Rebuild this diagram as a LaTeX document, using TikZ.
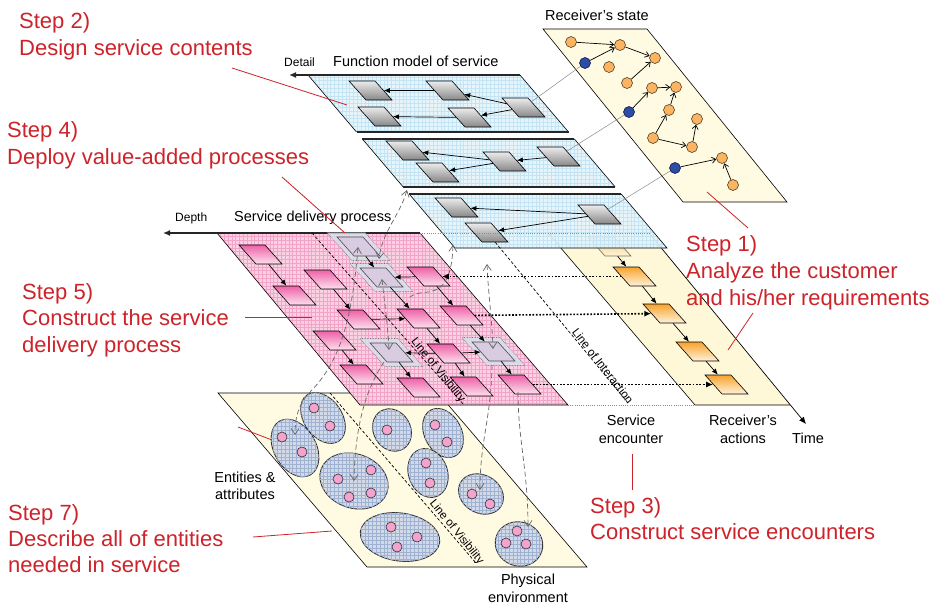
\documentclass[tikz,border=0pt]{standalone}
\usepackage{fontspec}
\setmainfont{Liberation Sans}
\usetikzlibrary{arrows.meta,patterns,shapes.geometric}

\definecolor{stepred}{RGB}{205,35,42}
\definecolor{bluefill}{RGB}{228,244,251}
\definecolor{bluegrid}{RGB}{196,228,243}
\definecolor{pinkfill}{RGB}{250,208,226}
\definecolor{pinkgrid}{RGB}{242,164,200}
\definecolor{creamfill}{RGB}{255,251,226}
\definecolor{actfill}{RGB}{255,248,216}
\definecolor{ellfill}{RGB}{210,218,233}
\definecolor{ellgrid}{RGB}{160,178,210}
\definecolor{dotpink}{RGB}{244,162,206}
\definecolor{stateorange}{RGB}{250,180,98}
\definecolor{stateblue}{RGB}{44,78,160}
\definecolor{graytop}{RGB}{236,236,236}
\definecolor{graybot}{RGB}{135,135,135}
\definecolor{pinktop}{RGB}{238,98,168}
\definecolor{pinkbot}{RGB}{252,224,238}
\definecolor{orangetop}{RGB}{247,163,45}
\definecolor{orangebot}{RGB}{255,242,218}
\definecolor{haloblue}{RGB}{214,226,238}
\definecolor{hilite}{RGB}{216,200,224}

% fine square mesh used as texture on the sheets
\pgfdeclarepatternformonly{mesh}{\pgfqpoint{-0.5pt}{-0.5pt}}{\pgfqpoint{4.5pt}{4.5pt}}{\pgfqpoint{3.8pt}{3.8pt}}{%
  \pgfsetlinewidth{0.3pt}%
  \pgfpathmoveto{\pgfqpoint{0pt}{0pt}}\pgfpathlineto{\pgfqpoint{0pt}{3.85pt}}%
  \pgfpathmoveto{\pgfqpoint{0pt}{0pt}}\pgfpathlineto{\pgfqpoint{3.85pt}{0pt}}%
  \pgfusepath{stroke}}

% a parallelogram tile: name, centre x, centre y, style
\newcommand\slanted[4]{%
  \begin{scope}[shift={(#2,#3)},xslant=-0.895]
    \node[transform shape,#4] (#1) at (0,0) {};
  \end{scope}}

\tikzset{
  every node/.style={inner sep=0pt},
  tile/.style={draw=black,line width=0.6pt,minimum width=26pt,minimum height=19pt},
  graytile/.style={tile,top color=graytop,bottom color=graybot},
  pinktile/.style={tile,top color=pinktop,bottom color=pinkbot},
  orangetile/.style={tile,top color=orangetop,bottom color=orangebot},
  halo/.style={draw=black!55,densely dotted,line width=0.6pt,fill=haloblue,fill opacity=0.8,minimum width=38pt,minimum height=28pt},
  hitile/.style={draw=black!70,line width=0.6pt,fill=hilite,fill opacity=0.75,minimum width=26pt,minimum height=19pt},
  creamplane/.style={fill=creamfill},
  actplane/.style={fill=actfill},
  blueplane/.style={preaction={fill=bluefill,fill opacity=0.88},preaction={pattern=mesh,pattern color=bluegrid}},
  pinkplane/.style={preaction={fill=pinkfill},preaction={pattern=mesh,pattern color=pinkgrid}},
  edge/.style={draw=black,line width=0.6pt},
  rim/.style={draw=black!85,line width=1.3pt},
  axis/.style={draw=black!85,line width=1.3pt,-{Latex[length=7pt,width=6pt]}},
  flow/.style={line width=0.7pt,-{Latex[length=6pt,width=5pt]}},
  stateflow/.style={line width=0.7pt,-{Straight Barb[length=4pt,width=6pt]}},
  encounter/.style={line width=1.6pt,dash pattern=on 1.7pt off 1.7pt,-{Latex[length=7pt,width=6pt]}},
  faintdots/.style={draw=black!45,line width=0.8pt,dash pattern=on 1pt off 1.2pt},
  lov/.style={draw=black,line width=0.7pt,dash pattern=on 3pt off 2pt},
  link/.style={draw=black!60,line width=0.7pt,dash pattern=on 5pt off 3pt},
  barb/.tip={Straight Barb[length=6pt,width=8pt]},
  obs/.style={draw=black!45,line width=0.5pt},
  sdot/.style={circle,draw=black!70!brown,fill=stateorange,line width=0.5pt,minimum size=11pt},
  bdot/.style={circle,draw=black!70!blue,fill=stateblue,line width=0.5pt,minimum size=11pt},
  ent/.style={ellipse,draw=black!80,line width=0.9pt,fill=ellfill,postaction={pattern=mesh,pattern color=ellgrid}},
  pdot/.style={circle,draw=black!80,fill=dotpink,line width=0.6pt,minimum size=10pt},
  steplbl/.style={text=stepred,font=\fontsize{22}{26}\selectfont,anchor=base west},
  lbl/.style={font=\fontsize{14.5}{17}\selectfont},
  axislbl/.style={font=\fontsize{12}{14}\selectfont,anchor=base west},
  lovlbl/.style={font=\fontsize{11.5}{13}\selectfont},
  leader/.style={draw=stepred,line width=0.8pt}
}

\begin{document}
\begin{tikzpicture}[x=1pt,y=-1pt]
\useasboundingbox (0,0) rectangle (936,605);
\fill[white] (0,0) rectangle (936,605);

% ---------------- receiver's state ----------------
\draw[creamplane,edge] (543,29) -- (647,29) -- (787,202) -- (683,202) -- cycle;
\node[sdot] (O1) at (571,42) {};
\node[sdot] (O2) at (620,45) {};
\node[sdot] (O3) at (655,58) {};
\node[sdot] (O4) at (609,67) {};
\node[sdot] (O5) at (627,83) {};
\node[sdot] (O6) at (652,88) {};
\node[sdot] (O7) at (676,87) {};
\node[sdot] (O8) at (669,110) {};
\node[sdot] (O9) at (653,138) {};
\node[sdot] (O10) at (697,119) {};
\node[sdot] (O11) at (692,147) {};
\node[sdot] (O12) at (722,158) {};
\node[sdot] (O13) at (733,185) {};
\node[bdot] (B1) at (585,63) {};
\node[bdot] (B2) at (629,112) {};
\node[bdot] (B3) at (675,168) {};
\draw[stateflow] (O1) -- (O2);
\draw[stateflow] (B1) -- (O2);
\draw[stateflow] (O2) -- (O3);
\draw[stateflow] (O5) -- (O3);
\draw[stateflow] (B2) -- (O6);
\draw[stateflow] (O6) -- (O7);
\draw[stateflow] (O8) -- (O7);
\draw[stateflow] (O9) -- (O8);
\draw[stateflow] (O9) -- (O11);
\draw[stateflow] (O11) -- (O10);
\draw[stateflow] (B3) -- (O12);
\draw[stateflow] (O13) -- (O12);

% ---------------- receiver's actions ----------------
\path[actplane] (548,233) -- (649,233) -- (790,405) -- (695,405) -- cycle;
\draw[edge] (548,233) -- (695,405) -- (790,405);
\coordinate (timeTop) at (649,233);
\coordinate (timeTip) at (806,424);
\draw[line width=0.7pt,-{Latex[length=7pt,width=6pt]}] (timeTop) -- (timeTip);
\slanted{A1}{609.5}{246.5}{orangetile,opacity=0.55}
\slanted{A2}{634.5}{276.5}{orangetile}
\slanted{A3}{664.5}{313.5}{orangetile}
\slanted{A4}{697.5}{351.5}{orangetile}
\slanted{A5}{726.5}{384.5}{orangetile}
\draw[flow] (A1) -- (A2);
\draw[flow] (A2) -- (A3);
\draw[flow] (A3) -- (A4);
\draw[flow] (A4) -- (A5);

% ---------------- function model (three sheets) ----------------
\path[blueplane] (308,75) -- (520,75) -- (568.5,132) -- (356.5,132) -- cycle;
\path[blueplane] (362.4,139) -- (574.4,139) -- (615.2,187) -- (403.2,187) -- cycle;
\path[blueplane] (409.2,194) -- (621.2,194) -- (667,248) -- (455,248) -- cycle;
\draw[edge] (520,75) -- (568.5,132);
\draw[edge] (308,75) -- (356.5,132);
\draw[edge] (362.4,139) -- (403.2,187);
\draw[edge] (574.4,139) -- (615.2,187);
\draw[edge] (409.2,194) -- (455,248) -- (667,248) -- (621.2,194);
\draw[rim] (356.5,132) -- (568.5,132);
\draw[rim] (362.4,139) -- (574.4,139);
\draw[rim] (403.2,187) -- (615.2,187);
\draw[rim] (409.2,194) -- (621.2,194);
\coordinate (detailRoot) at (520,75);
\coordinate (detailTip) at (289,75);
\draw[axis] (detailRoot) -- (detailTip);

\slanted{G1}{370.5}{90.5}{graytile}
\slanted{G2}{447.5}{90.5}{graytile}
\slanted{G3}{523.5}{107.5}{graytile}
\slanted{G4}{379.5}{116.5}{graytile}
\slanted{G5}{469.5}{117.5}{graytile}
\slanted{G6}{407.5}{150.5}{graytile}
\slanted{G7}{437.5}{172.5}{graytile}
\slanted{G8}{504.5}{161.5}{graytile}
\slanted{G9}{558.5}{156.5}{graytile}
\slanted{G10}{456.5}{207.5}{graytile}
\slanted{G11}{486.5}{232.5}{graytile}
\slanted{G12}{599.5}{214.5}{graytile}
\draw[flow] (G2) -- (G1);
\draw[flow] (G3) -- (G2);
\draw[flow] (G3) -- (G5);
\draw[flow] (G5) -- (G4);
\draw[flow] (G8) -- (G6);
\draw[flow] (G8) -- (G7);
\draw[flow] (G9) -- (G8);
\draw[flow] (G12) -- (G10);
\draw[flow] (G12) -- (G11);

% links from the receiver's state to the function model
\draw[obs] (B1) -- (G3);
\draw[obs] (B2) -- (G9);
\draw[obs] (B3) -- (G12);

% ---------------- physical environment ----------------
\draw[creamplane,edge] (218,393) -- (438,393) -- (587,567) -- (367,567) -- cycle;
\node[ent,minimum width=62pt,minimum height=42pt,rotate=-60] (E1) at (295,448) {};
\node[ent,minimum width=56pt,minimum height=38pt,rotate=-55] (E2) at (323,418) {};
\node[ent,minimum width=44pt,minimum height=37pt,rotate=-60] (E3) at (392,430) {};
\node[ent,minimum width=52pt,minimum height=37pt,rotate=-62] (E4) at (443,433) {};
\node[ent,minimum width=70pt,minimum height=54pt,rotate=-20] (E5) at (354,481) {};
\node[ent,minimum width=50pt,minimum height=39pt,rotate=-70] (E6) at (428,473) {};
\node[ent,minimum width=47pt,minimum height=38pt,rotate=-30] (E7) at (481,494) {};
\node[ent,minimum width=80pt,minimum height=48pt,rotate=-8] (E8) at (400,537) {};
\node[ent,minimum width=48pt,minimum height=44pt,rotate=-20] (E9) at (519,544) {};
\foreach \n/\p in {d1/{(282,437)},d2/{(302,452)},d3/{(314,408)},d4/{(330,426)},
  d5/{(387,430)},d6/{(435,425)},d7/{(447,442)},d8/{(371,470)},d9/{(338,479)},
  d10/{(371,493)},d11/{(349,497)},d12/{(426,463)},d13/{(430,483)},d14/{(472,494)},
  d15/{(490,504)},d16/{(391,527)},d17/{(417,537)},d18/{(397,547)},d19/{(517,531)},
  d20/{(506,543)},d21/{(526,544)}}
  \node[pdot] (\n) at \p {};
\coordinate (pvisA) at (330,393);
\coordinate (pvisB) at (476,563);
\draw[lov] (pvisA) -- (pvisB);
\node[lovlbl,rotate=-51] (pvisText) at (456.5,532) {Line of Visibility};

% ---------------- service delivery process ----------------
\path[pinkplane] (217,233) -- (420,233) -- (568,405) -- (360,405) -- cycle;
\draw[edge] (217,233) -- (360,405) -- (568,405) -- (420,233);
\coordinate (depthRoot) at (420,233);
\coordinate (depthTip) at (163,233);
\draw[axis] (depthRoot) -- (depthTip);
\draw[faintdots] (depthRoot) -- (timeTop);
\coordinate (floorA) at (568,405);
\coordinate (floorB) at (695,405);
\draw[faintdots] (floorA) -- (floorB);

\slanted{P1}{260.5}{254.5}{pinktile}
\slanted{P2}{294.5}{295.5}{pinktile}
\slanted{P3}{325.5}{279.5}{pinktile}
\slanted{P4}{358.5}{319.5}{pinktile}
\slanted{P5}{428.5}{276.5}{pinktile}
\slanted{P6}{461.5}{315.5}{pinktile}
\slanted{P7}{418.5}{318.5}{pinktile}
\slanted{P8}{334.5}{340.5}{pinktile}
\slanted{P9}{361.5}{374.5}{pinktile}
\slanted{P10}{448.5}{353.5}{pinktile}
\slanted{P11}{418.5}{387.5}{pinktile}
\slanted{P12}{471.5}{386.5}{pinktile}
\slanted{P13}{519.5}{384.5}{pinktile}
\slanted{Q1}{358.5}{246.5}{halo}
\slanted{Q2}{381.5}{277.5}{halo}
\slanted{Q3}{391.5}{352.5}{halo}
\slanted{Q4}{493.5}{351.5}{halo}
\slanted{H1}{358.5}{246.5}{hitile}
\slanted{H2}{381.5}{277.5}{hitile}
\slanted{H3}{391.5}{352.5}{hitile}
\slanted{H4}{493.5}{351.5}{hitile}

\draw[flow] (P1) -- (P2);
\draw[flow] (P3) -- (P4);
\draw[flow] (P4) -- (P7);
\draw[flow] (P5) -- (H2);
\draw[flow] (P5) -- (P6);
\draw[flow] (H2) -- (P7);
\draw[flow] (P7) -- (P10);
\draw[flow] (P6) -- (H4);
\draw[flow] (P10) -- (H4);
\draw[flow] (P10) -- (H3);
\draw[flow] (P8) -- (P9);
\draw[flow] (H3) -- (P11);
\draw[flow] (P10) -- (P12);
\draw[flow] (H4) -- (P13);
\draw[flow] (H1) -- (H2);

\coordinate (svisA) at (312,233);
\coordinate (svisB) at (464,405);
\draw[lov] (svisA) -- (svisB);
\node[lovlbl,rotate=-51] (svisText) at (438,370) {Line of Visibility};

% line of interaction
\coordinate (loiEnd) at (628,403);
\draw[lov] (G11.south) -- (loiEnd);
\node[lovlbl,rotate=-52] (loiText) at (603,366) {Line of Interaction};

% ---------------- deployment links between layers ----------------
\coordinate (ca1) at (407,190);  \coordinate (ca2) at (379,259);
\draw[link,barb-barb] (ca1) .. controls (400,215) and (382,232) .. (ca2);
\coordinate (cb1) at (358,247);  \coordinate (cb2) at (295,435);
\draw[link,barb-barb] (cb1) .. controls (352,320) and (340,362) .. (310,392)
  .. controls (298,405) and (295,418) .. (cb2);
\coordinate (cc1) at (382,279);  \coordinate (cc2) at (389,350);
\draw[link,barb-barb] (cc1) .. controls (384,300) and (388,325) .. (cc2);
\coordinate (cd1) at (384,362);  \coordinate (cd2) at (354,481);
\draw[link,-barb] (cd1) .. controls (364,392) and (355,430) .. (cd2);
\coordinate (ce1) at (453,245);  \coordinate (ce2) at (408,300);
\draw[link,barb-] (ce1) .. controls (452,275) and (445,290) .. (428,292)
  .. controls (416,293) and (410,295) .. (ce2);
\coordinate (cf1) at (487,264);  \coordinate (cf2) at (493,349);
\draw[link,barb-barb] (cf1) .. controls (488,290) and (492,320) .. (cf2);
\coordinate (cg1) at (492,365);  \coordinate (cg2) at (480,490);
\draw[link,-barb] (cg1) .. controls (491,420) and (480,440) .. (cg2);
\coordinate (ch1) at (518,392);  \coordinate (ch2) at (528,527);
\draw[link,-barb] (ch1) .. controls (518,440) and (528,470) .. (ch2);

% ---------------- service encounters ----------------
\draw[encounter] (A2) -- (P5);
\draw[encounter] (P6) -- (A3);
\draw[encounter] (P13) -- (A5);

% ---------------- labels ----------------
\node[axislbl] (lblDetail) at (284,66) {Detail};
\node[lbl,anchor=base west] (lblFunc) at (333,66) {Function model of service};
\node[lbl,anchor=base west] (lblState) at (545,20) {Receiver's state};
\node[axislbl] (lblDepth) at (175,221) {Depth};
\node[lbl,anchor=base west] (lblSdp) at (234,221) {Service delivery process};
\node[lbl,anchor=base] (lblEnc1) at (631,425) {Service};
\node[lbl,anchor=base] (lblEnc2) at (631,443) {encounter};
\node[lbl,anchor=base] (lblAct1) at (743,425) {Receiver's};
\node[lbl,anchor=base] (lblAct2) at (743,443) {actions};
\node[lbl,anchor=base west] (lblTime) at (792,443) {Time};
\node[lbl,anchor=base] (lblEnt1) at (245,482) {Entities \&};
\node[lbl,anchor=base] (lblEnt2) at (245,499) {attributes};
\node[lbl,anchor=base] (lblPhy1) at (528,584) {Physical};
\node[lbl,anchor=base] (lblPhy2) at (528,602) {environment};

% ---------------- steps ----------------
\node[steplbl] (s2a) at (19,28) {Step 2)};
\node[steplbl] (s2b) at (19,55) {Design service contents};
\node[steplbl] (s4a) at (7,137) {Step 4)};
\node[steplbl] (s4b) at (7,164) {Deploy value-added processes};
\node[steplbl] (s5a) at (22,299) {Step 5)};
\node[steplbl] (s5b) at (22,325) {Construct the service};
\node[steplbl] (s5c) at (22,352) {delivery process};
\node[steplbl] (s7a) at (8,520) {Step 7)};
\node[steplbl] (s7b) at (8,546) {Describe all of entities};
\node[steplbl] (s7c) at (8,572) {needed in service};
\node[steplbl] (s1a) at (686,251) {Step 1)};
\node[steplbl] (s1b) at (686,278) {Analyze the customer};
\node[steplbl] (s1c) at (686,305) {and his/her requirements};
\node[steplbl] (s3a) at (590,513) {Step 3)};
\node[steplbl] (s3b) at (590,539) {Construct service encounters};

% leaders from the step texts
\coordinate (r2a) at (232,68);  \coordinate (r2b) at (347,105);
\coordinate (r4a) at (282,177); \coordinate (r4b) at (345,233);
\coordinate (r5a) at (245,317); \coordinate (r5b) at (312,317);
\coordinate (r7a) at (253,537); \coordinate (r7b) at (332,531);
\coordinate (r7c) at (238,427); \coordinate (r7d) at (272,440);
\coordinate (r1a) at (748,228); \coordinate (r1b) at (707,192);
\coordinate (r1c) at (753,313); \coordinate (r1d) at (728,350);
\coordinate (r3a) at (632,490); \coordinate (r3b) at (632,454);
\draw[leader] (r2a) -- (r2b);
\draw[leader] (r4a) -- (r4b);
\draw[leader] (r5a) -- (r5b);
\draw[leader] (r7a) -- (r7b);
\draw[leader] (r7c) -- (r7d);
\draw[leader] (r1a) -- (r1b);
\draw[leader] (r1c) -- (r1d);
\draw[leader] (r3a) -- (r3b);
\end{tikzpicture}
\end{document}
